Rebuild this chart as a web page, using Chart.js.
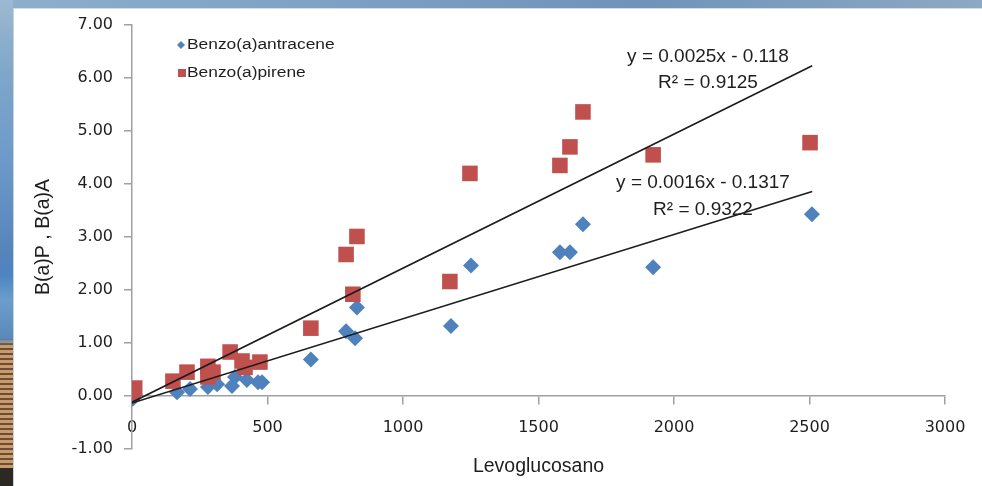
<!DOCTYPE html>
<html>
<head>
<meta charset="utf-8">
<title>Levoglucosano vs B(a)P, B(a)A</title>
<script src="https://cdn.jsdelivr.net/npm/chart.js@4.4.1/dist/chart.umd.min.js"></script>
<style>
    html, body { margin: 0; padding: 0; }
    body { width: 982px; height: 486px; overflow: hidden; position: relative; background: #ffffff; }
    #frame-top {
        position: absolute; left: 0; top: 0; width: 982px; height: 8px;
        background: linear-gradient(to right, #8eafcc 0%, #7da1c4 35%, #6f93b9 65%, #8da9c3 100%);
    }
    #frame-left {
        position: absolute; left: 0; top: 0; width: 13px; height: 486px;
        background:
            linear-gradient(to bottom, transparent 468px, #2c2824 468px),
            linear-gradient(to bottom, #9db9d1 0px, #80a7ca 70px, #6d9acb 160px, #5584bb 255px, #4e84c0 275px, #6b9dcd 300px, #5a8abb 338px, transparent 346px),
            repeating-linear-gradient(to bottom, #c89b6f 0px, #c89b6f 3px, #6e4c31 3px, #6e4c31 5px);
    }
    #panel {
        position: absolute; left: 13px; top: 8px; right: 0; bottom: 0;
        background: #ffffff; border-left: 1px solid #c9d2da; border-top: 1px solid #d5dce3;
    }
    #chart { position: absolute; left: 0; top: 0; }
</style>
</head>
<body>
<div id="frame-top"></div>
<div id="frame-left"></div>
<div id="panel"></div>
<canvas id="chart" width="982" height="486"></canvas>

<script>
// Series names (legend order)
const seriesNames = ['Benzo(a)antracene', 'Benzo(a)pirene'];

// Benzo(a)antracene: levoglucosan (x) and B(a)A (y)
const levoBaA = [3, 10, 166, 214, 280, 314, 369, 380, 424, 465, 480, 660, 790, 823, 830, 1177, 1251, 1579, 1616, 1664, 1923, 2509];
const valBaA  = [-0.05, 0.02, 0.07, 0.13, 0.17, 0.22, 0.19, 0.36, 0.30, 0.26, 0.26, 0.69, 1.22, 1.09, 1.67, 1.32, 2.46, 2.71, 2.71, 3.24, 2.43, 3.43];

// Benzo(a)pirene: levoglucosan (x) and B(a)P (y)
const levoBaP = [0, 10, 151, 203, 280, 299, 280, 362, 406, 417, 472, 660, 815, 790, 830, 1173, 1247, 1579, 1616, 1664, 1923, 2502];
const valBaP  = [0.05, 0.15, 0.28, 0.45, 0.56, 0.45, 0.36, 0.83, 0.66, 0.54, 0.64, 1.28, 1.92, 2.67, 3.01, 2.16, 4.20, 4.35, 4.70, 5.36, 4.55, 4.78];

// Linear trendlines (end points as drawn)
const trendX = [0, 2510];
const trendBaP = [-0.118, 6.23];
const trendBaA = [-0.132, 3.86];

// Trendline labels
const eqBaP = ['y = 0.0025x - 0.118', 'R\u00B2 = 0.9125'];
const eqBaA = ['y = 0.0016x - 0.1317', 'R\u00B2 = 0.9322'];

// Axis ticks
const xTicks = { min: 0, max: 3000, step: 500 };
const yTicks = { min: -1, max: 7, step: 1 };

const BLUE = '#4F81BD';
const RED = '#C0504D';
const TEXT = '#1e1e1e';
const AXIS = '#a0a0a0';

function toPoints(xs, ys) {
    return xs.map((x, i) => ({ x: x, y: ys[i] }));
}

// Draws the legend box and the trendline equations
const annotationsPlugin = {
    id: 'annotations',
    afterDraw(chart) {
        const c = chart.ctx;
        c.save();

        // legend markers
        c.fillStyle = BLUE;
        c.beginPath();
        c.moveTo(181, 41);
        c.lineTo(185, 45);
        c.lineTo(181, 49);
        c.lineTo(177, 45);
        c.closePath();
        c.fill();
        c.fillStyle = RED;
        c.fillRect(178, 69, 8, 8);

        // legend text (stretched like the original)
        c.fillStyle = TEXT;
        c.font = '14px "Liberation Sans", Arial, sans-serif';
        c.textBaseline = 'middle';
        c.textAlign = 'left';
        [[seriesNames[0], 45], [seriesNames[1], 73]].forEach(([txt, y]) => {
            c.save();
            c.translate(187, y);
            c.scale(1.24, 1);
            c.fillText(txt, 0, 0);
            c.restore();
        });

        // trendline equations
        c.font = '19px "Liberation Sans", Arial, sans-serif';
        c.textAlign = 'center';
        c.fillText(eqBaP[0], 708, 57);
        c.fillText(eqBaP[1], 708, 83);
        c.fillText(eqBaA[0], 703, 183);
        c.fillText(eqBaA[1], 703, 210);
        c.restore();
    }
};

const tickFont = { family: '"DejaVu Sans", Verdana, sans-serif', size: 16 };
const titleFont = { family: '"Liberation Sans", Arial, sans-serif', size: 19.5 };

new Chart(document.getElementById('chart'), {
    type: 'scatter',
    data: {
        datasets: [
            {
                label: 'trend BaP',
                data: toPoints(trendX, trendBaP),
                showLine: true,
                borderColor: '#1c1c1c',
                borderWidth: 1.6,
                pointRadius: 0,
                xAxisID: 'x',
                order: 0
            },
            {
                label: 'trend BaA',
                data: toPoints(trendX, trendBaA),
                showLine: true,
                borderColor: '#1c1c1c',
                borderWidth: 1.6,
                pointRadius: 0,
                xAxisID: 'x',
                order: 0
            },
            {
                label: seriesNames[1],
                data: toPoints(levoBaP, valBaP),
                pointStyle: 'rect',
                pointRadius: 11,
                backgroundColor: RED,
                borderColor: RED,
                borderWidth: 0,
                xAxisID: 'x',
                order: 1
            },
            {
                label: seriesNames[0],
                data: toPoints(levoBaA, valBaA),
                pointStyle: 'rectRot',
                pointRadius: 8,
                backgroundColor: BLUE,
                borderColor: BLUE,
                borderWidth: 0,
                xAxisID: 'x',
                order: 2
            }
        ]
    },
    options: {
        responsive: false,
        animation: false,
        events: [],
        layout: { padding: { top: 25, right: 37, left: 0, bottom: 0 } },
        plugins: {
            legend: { display: false },
            tooltip: { enabled: false }
        },
        scales: {
            x: {
                type: 'linear',
                position: { y: 0 },
                min: xTicks.min,
                max: xTicks.max,
                ticks: {
                    stepSize: xTicks.step,
                    font: tickFont,
                    color: TEXT,
                    padding: 14,
                    maxRotation: 0,
                    callback: (v) => String(v)
                },
                grid: { drawOnChartArea: false, tickLength: 8, color: AXIS, lineWidth: 1.5 },
                border: { color: AXIS, width: 1.5 },
                afterFit: (scale) => { scale.height = 0; }
            },
            xTitle: {
                type: 'linear',
                axis: 'x',
                position: 'bottom',
                min: xTicks.min,
                max: xTicks.max,
                ticks: { display: false },
                grid: { display: false },
                border: { display: false },
                title: { display: true, text: 'Levoglucosano', font: titleFont, color: TEXT, padding: { top: 0, bottom: 8 } },
                afterFit: (scale) => { scale.height = 37; }
            },
            y: {
                type: 'linear',
                position: 'left',
                min: yTicks.min,
                max: yTicks.max,
                ticks: {
                    stepSize: yTicks.step,
                    font: tickFont,
                    color: TEXT,
                    padding: 11,
                    callback: (v) => v.toFixed(2)
                },
                grid: { drawOnChartArea: false, tickLength: 8, color: AXIS, lineWidth: 1.5 },
                border: { color: AXIS, width: 1.5 },
                title: { display: true, text: 'B(a)P , B(a)A', font: titleFont, color: TEXT, padding: { top: 32, bottom: 0 } },
                afterFit: (scale) => { scale.width = 132; }
            }
        }
    },
    plugins: [annotationsPlugin]
});
</script>
</body>
</html>
